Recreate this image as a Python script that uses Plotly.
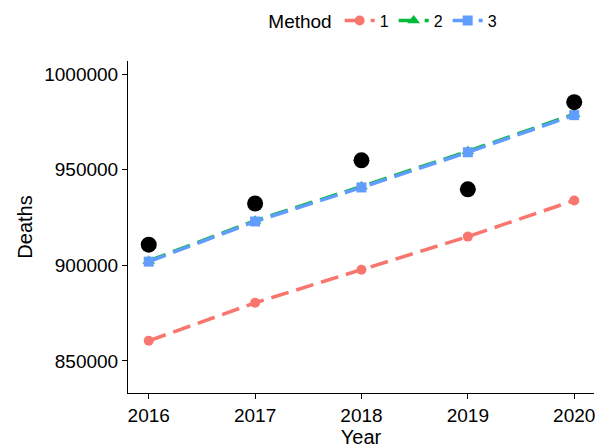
import plotly.graph_objects as go

years = [2016, 2017, 2018, 2019, 2020]
observed = [910800, 932300, 954900, 939700, 985300]
m1 = [860500, 880400, 897700, 915000, 933900]
m2 = [902300, 923300, 941200, 959600, 979000]
m3 = [901900, 922900, 940700, 959100, 978500]

dash = "18px,8px"
fig = go.Figure()
fig.add_trace(go.Scatter(x=years, y=m1, mode="lines+markers", name="1",
    line=dict(color="#F8766D", width=3.5, dash=dash), marker=dict(symbol="circle", size=10)))
fig.add_trace(go.Scatter(x=years, y=m2, mode="lines+markers", name="2",
    line=dict(color="#00BA38", width=3.5, dash=dash), marker=dict(symbol="triangle-up", size=11)))
fig.add_trace(go.Scatter(x=years, y=m3, mode="lines+markers", name="3",
    line=dict(color="#619CFF", width=3.5, dash=dash), marker=dict(symbol="square", size=10)))
fig.add_trace(go.Scatter(x=years, y=observed, mode="markers", showlegend=False,
    marker=dict(color="black", size=16)))

fig.update_layout(
    width=606, height=447, plot_bgcolor="white", paper_bgcolor="white",
    margin=dict(l=120, r=20, t=53, b=62, autoexpand=False),
    font=dict(family="Liberation Sans, Arial", size=19, color="black"),
    legend=dict(orientation="h", x=0.55, xanchor="center", y=1.12, yanchor="middle",
                title=dict(text="Method"), font=dict(size=16), itemwidth=30),
    xaxis=dict(title=dict(text="Year", standoff=0, font=dict(size=20)), range=[2015.805, 2020.186], tickvals=years,
               showline=True, linecolor="black", ticks="outside", tickcolor="black",
               showgrid=False, zeroline=False),
    yaxis=dict(title=dict(text="Deaths", standoff=6, font=dict(size=20)), range=[833217, 1006818],
               tickvals=[850000, 900000, 950000, 1000000], tickformat="d",
               showline=True, linecolor="black", ticks="outside", tickcolor="black",
               showgrid=False, zeroline=False),
)
fig.write_html("out.html")
